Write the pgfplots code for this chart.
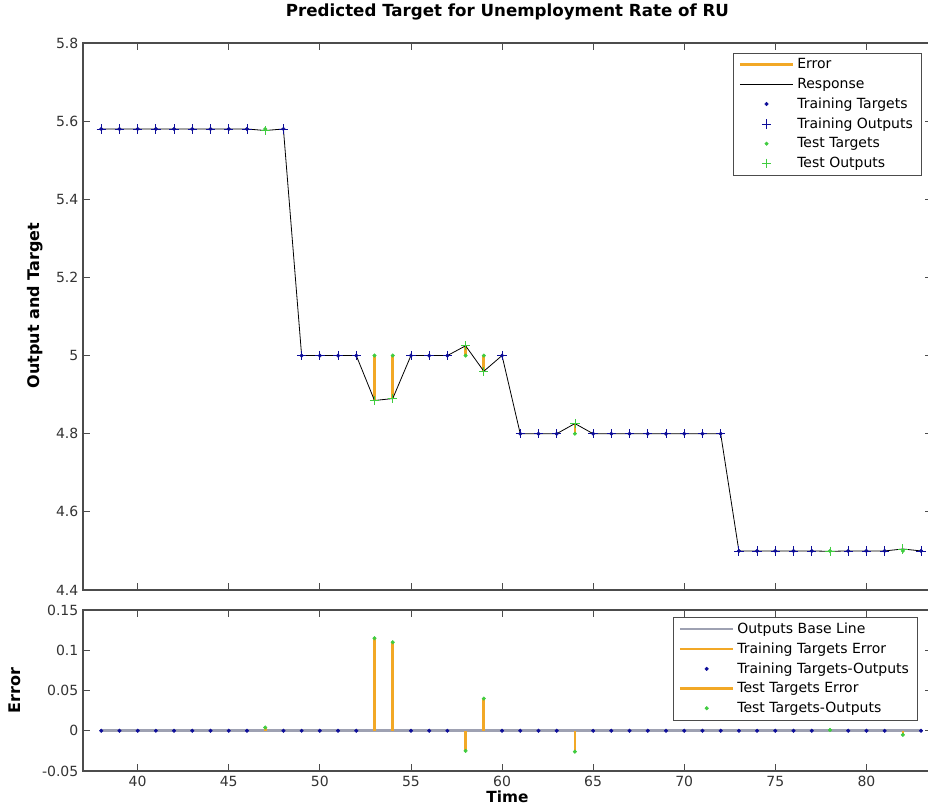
\documentclass[border=0pt]{standalone}
\usepackage{fontspec}
\setmainfont{DejaVu Sans}
\usepackage{pgfplots}
\pgfplotsset{compat=1.18}

\definecolor{trblue}{rgb}{0.05,0.05,0.6}
\definecolor{tsgreen}{rgb}{0.25,0.8,0.25}
\definecolor{errorange}{rgb}{0.95,0.66,0.15}
\definecolor{basegray}{rgb}{0.62,0.63,0.7}
\definecolor{axgray}{rgb}{0.3,0.3,0.3}

\pgfplotsset{
  mlab/.style={
    scale only axis, width=636.75pt,
    xmin=37, xmax=83.6,
    axis line style={axgray, line width=0.9pt},
    tick style={axgray, line width=0.6pt},
    major tick length=5pt, tick align=inside,
    xtick={40,45,...,80},
    ticklabel style={font=\fontsize{10.5}{12}\selectfont, text=black!80},
    xticklabel style={yshift=-0.5pt},
    /pgf/number format/assume math mode=true,
    label style={font=\bfseries\fontsize{12}{14}\selectfont},
    legend cell align=left,
    legend image code/.code={\draw[mark repeat=2,mark phase=2,#1] plot coordinates {(0pt,0pt) (20pt,0pt) (40pt,0pt)};},
    legend style={font=\fontsize{10.5}{12}\selectfont, draw=axgray, fill=white,
      row sep=1.5pt, inner xsep=4pt, inner ysep=2pt},
    unbounded coords=jump,
  },
  trdot/.style={only marks, mark=*, mark size=1.3pt, color=trblue},
  trplus/.style={only marks, mark=+, mark size=3.5pt, color=trblue, mark options={line width=0.6pt}},
  tsdot/.style={only marks, mark=*, mark size=1.3pt, color=tsgreen},
  tsplus/.style={only marks, mark=+, mark size=3.5pt, color=tsgreen, mark options={line width=0.6pt}},
  stemleg/.style={legend image code/.code={\draw[errorange, line width=2pt] (0pt,0pt) -- (40pt,0pt);}},
}

\begin{document}
\begin{tikzpicture}
\path[use as bounding box] (0,0) rectangle (696pt,-605.25pt);

% upper panel: targets and outputs
\begin{axis}[mlab,
  at={(62.25pt,-32.25pt)}, anchor=north west,
  height=410.25pt,
  ymin=4.4, ymax=5.8,
  ytick={4.4,4.6,4.8,5.0,5.2,5.4,5.6,5.8},
  yticklabels={4.4,4.6,4.8,5,5.2,5.4,5.6,5.8},
  xticklabels={},
  title={Predicted Target for Unemployment Rate of RU},
  title style={font=\bfseries\fontsize{12.5}{14}\selectfont, at={(axis description cs:0.5,1)}, anchor=center, yshift=17.25pt},
  ylabel={Output and Target},
  ylabel style={at={(axis description cs:-0.0565,0.52)}, anchor=center},
  legend style={at={(0.7656,0.9817)}, anchor=north west},
]
\addplot[errorange, line width=2pt] coordinates {
  (47,5.58) (47,5.576) (47,nan)
  (53,5.0) (53,4.885) (53,nan)
  (54,5.0) (54,4.89) (54,nan)
  (58,5.0) (58,5.025) (58,nan)
  (59,5.0) (59,4.96) (59,nan)
  (64,4.8) (64,4.826) (64,nan)
  (78,4.5) (78,4.499) (78,nan)
  (82,4.5) (82,4.505)
};
\addlegendentry{Error}
\addplot[black, line width=0.6pt] coordinates {
  (38,5.58) (39,5.58) (40,5.58) (41,5.58) (42,5.58) (43,5.58) (44,5.58) (45,5.58)
  (46,5.58) (47,5.576) (48,5.58) (49,5.0) (50,5.0) (51,5.0) (52,5.0) (53,4.885)
  (54,4.89) (55,5.0) (56,5.0) (57,5.0) (58,5.025) (59,4.96) (60,5.0) (61,4.8)
  (62,4.8) (63,4.8) (64,4.826) (65,4.8) (66,4.8) (67,4.8) (68,4.8) (69,4.8)
  (70,4.8) (71,4.8) (72,4.8) (73,4.5) (74,4.5) (75,4.5) (76,4.5) (77,4.5)
  (78,4.499) (79,4.5) (80,4.5) (81,4.5) (82,4.505) (83,4.5)
};
\addlegendentry{Response}
\addplot[trdot] coordinates {
  (38,5.58) (39,5.58) (40,5.58) (41,5.58) (42,5.58) (43,5.58) (44,5.58) (45,5.58)
  (46,5.58) (48,5.58) (49,5.0) (50,5.0) (51,5.0) (52,5.0) (55,5.0) (56,5.0)
  (57,5.0) (60,5.0) (61,4.8) (62,4.8) (63,4.8) (65,4.8) (66,4.8) (67,4.8)
  (68,4.8) (69,4.8) (70,4.8) (71,4.8) (72,4.8) (73,4.5) (74,4.5) (75,4.5)
  (76,4.5) (77,4.5) (79,4.5) (80,4.5) (81,4.5) (83,4.5)
};
\addlegendentry{Training Targets}
\addplot[trplus] coordinates {
  (38,5.58) (39,5.58) (40,5.58) (41,5.58) (42,5.58) (43,5.58) (44,5.58) (45,5.58)
  (46,5.58) (48,5.58) (49,5.0) (50,5.0) (51,5.0) (52,5.0) (55,5.0) (56,5.0)
  (57,5.0) (60,5.0) (61,4.8) (62,4.8) (63,4.8) (65,4.8) (66,4.8) (67,4.8)
  (68,4.8) (69,4.8) (70,4.8) (71,4.8) (72,4.8) (73,4.5) (74,4.5) (75,4.5)
  (76,4.5) (77,4.5) (79,4.5) (80,4.5) (81,4.5) (83,4.5)
};
\addlegendentry{Training Outputs}
\addplot[tsdot] coordinates {
  (47,5.58) (53,5.0) (54,5.0) (58,5.0) (59,5.0) (64,4.8) (78,4.5) (82,4.5)
};
\addlegendentry{Test Targets}
\addplot[tsplus] coordinates {
  (47,5.576) (53,4.885) (54,4.89) (58,5.025) (59,4.96) (64,4.826) (78,4.499) (82,4.505)
};
\addlegendentry{Test Outputs}
\end{axis}

% lower panel: errors
\begin{axis}[mlab,
  at={(62.25pt,-457.5pt)}, anchor=north west,
  height=120.75pt,
  ymin=-0.05, ymax=0.15,
  ytick={-0.05,0,0.05,0.1,0.15},
  yticklabels={-0.05,0,0.05,0.1,0.15},
  xticklabels={40,45,50,55,60,65,70,75,80},
  xlabel={Time},
  xlabel style={at={(axis description cs:0.5,0)}, anchor=center, inner sep=0pt, yshift=-19.5pt, font=\bfseries\fontsize{11.5}{13}\selectfont},
  ylabel={Error},
  ylabel style={at={(axis description cs:-0.0801,0.5)}, anchor=center},
  legend style={at={(0.695,0.9565)}, anchor=north west},
]
\addplot[basegray, line width=2pt] coordinates {(38,0) (83,0)};
\addlegendentry{Outputs Base Line}
\addplot[ycomb, errorange, line width=2pt, stemleg] coordinates {
  (38,0) (39,0) (40,0) (41,0) (42,0) (43,0) (44,0) (45,0) (46,0) (48,0)
  (49,0) (50,0) (51,0) (52,0) (55,0) (56,0) (57,0) (60,0) (61,0) (62,0)
  (63,0) (65,0) (66,0) (67,0) (68,0) (69,0) (70,0) (71,0) (72,0) (73,0)
  (74,0) (75,0) (76,0) (77,0) (79,0) (80,0) (81,0) (83,0)
};
\addlegendentry{Training Targets Error}
\addplot[trdot] coordinates {
  (38,0) (39,0) (40,0) (41,0) (42,0) (43,0) (44,0) (45,0) (46,0) (48,0)
  (49,0) (50,0) (51,0) (52,0) (55,0) (56,0) (57,0) (60,0) (61,0) (62,0)
  (63,0) (65,0) (66,0) (67,0) (68,0) (69,0) (70,0) (71,0) (72,0) (73,0)
  (74,0) (75,0) (76,0) (77,0) (79,0) (80,0) (81,0) (83,0)
};
\addlegendentry{Training Targets-Outputs}
\addplot[ycomb, errorange, line width=2pt, stemleg] coordinates {
  (47,0.004) (53,0.115) (54,0.11) (58,-0.025) (59,0.04) (64,-0.026) (78,0.001) (82,-0.005)
};
\addlegendentry{Test Targets Error}
\addplot[tsdot] coordinates {
  (47,0.004) (53,0.115) (54,0.11) (58,-0.025) (59,0.04) (64,-0.026) (78,0.001) (82,-0.005)
};
\addlegendentry{Test Targets-Outputs}
\end{axis}
\end{tikzpicture}
\end{document}
